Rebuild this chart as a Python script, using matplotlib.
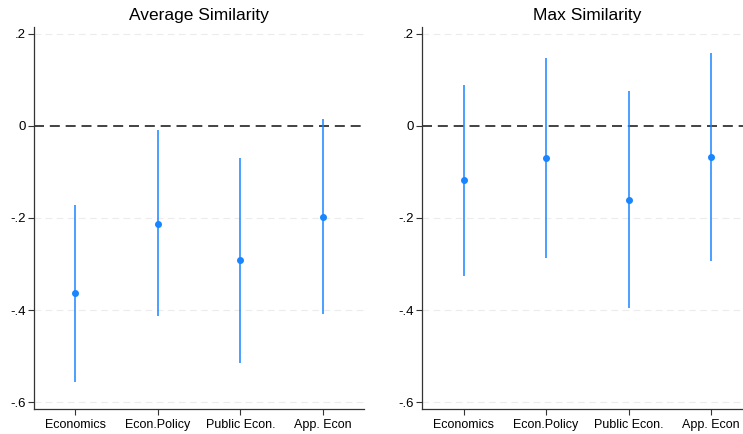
import numpy as np
import matplotlib

matplotlib.use("Agg")
import matplotlib.pyplot as plt

plt.rcParams["font.family"] = ["Liberation Sans", "DejaVu Sans"]

categories = ["Economics", "Econ.Policy", "Public Econ.", "App. Econ"]

avg_coef = [-0.364, -0.212, -0.292, -0.197]
avg_lo = [-0.556, -0.413, -0.514, -0.409]
avg_hi = [-0.172, -0.009, -0.069, 0.016]

max_coef = [-0.118, -0.070, -0.160, -0.068]
max_lo = [-0.326, -0.286, -0.395, -0.293]
max_hi = [0.089, 0.147, 0.076, 0.158]

yticks = [0.2, 0.0, -0.2, -0.4, -0.6]
ytick_labels = [".2", "0", "-.2", "-.4", "-.6"]

BLUE = "#1a85ff"
W, H = 743, 434

fig = plt.figure(figsize=(W / 100, H / 100), dpi=100)

panels = [
    ("Average Similarity", avg_coef, avg_lo, avg_hi, 34),
    ("Max Similarity", max_coef, max_lo, max_hi, 422.3),
]

x = np.arange(1, len(categories) + 1)
for title, coef, lo, hi, x0 in panels:
    ax = fig.add_axes([x0 / W, 1 - 409 / H, 330 / W, 382 / H])
    for yv in yticks:
        if yv != 0:
            ax.axhline(yv, color="#ececec", lw=0.8, ls=(0, (6, 4)), zorder=0)
    ax.axhline(0, color="#222222", lw=1.2, ls=(0, (6, 3.5)), zorder=1)
    ax.vlines(x, lo, hi, color=BLUE, lw=1.3, alpha=0.85, zorder=2)
    ax.plot(x, coef, "o", color=BLUE, ms=4, zorder=3)
    ax.set_xlim(0.5, 4.5)
    ax.set_ylim(-0.615, 0.215)
    ax.set_xticks(x)
    ax.set_xticklabels(categories, fontsize=9)
    ax.set_yticks(yticks)
    ax.set_yticklabels(ytick_labels, fontsize=9.5)
    ax.tick_params(axis="y", length=4, width=0.8, color="#333333", pad=2)
    ax.tick_params(axis="x", length=4, width=0.8, color="#333333", pad=3)
    for s in ["top", "right"]:
        ax.spines[s].set_visible(False)
    for s in ["left", "bottom"]:
        ax.spines[s].set_color("#333333")
        ax.spines[s].set_linewidth(0.9)
    ax.set_title(title, fontsize=12.5, pad=5)

fig.savefig("out.png", dpi=100)
